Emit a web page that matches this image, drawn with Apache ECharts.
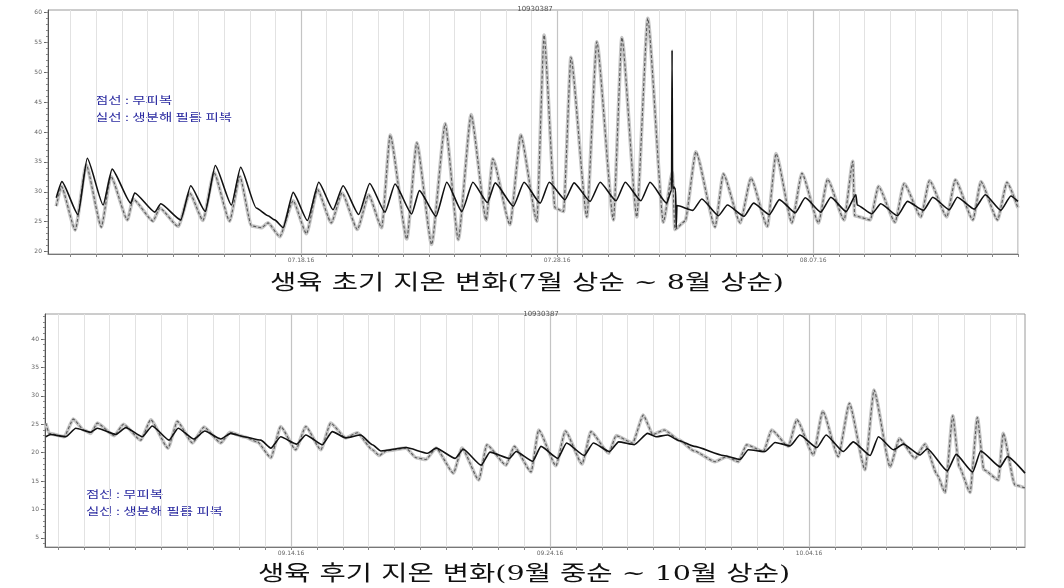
<!DOCTYPE html>
<html><head><meta charset="utf-8">
<script src="https://cdn.jsdelivr.net/npm/echarts@6/dist/echarts.min.js"></script>
<style>html,body{margin:0;padding:0;background:#fff}#c{width:1064px;height:588px}</style>
</head><body><div id="c"></div>
<script>
// x values are days since the start date of each panel (07.08.16 / 09.04.16 00:00)
const chartId = '10930387';
const earlyCaption = '생육 초기 지온 변화(7월 상순 ~ 8월 상순)';
const lateCaption = '생육 후기 지온 변화(9월 중순 ~ 10월 상순)';
const legendDashed = '점선 : 무피복';
const legendSolid = '실선 : 생분해 필름 피복';

const earlyDateTicks = [10, 20, 30];
const earlyDateLabels = ['07.18.16', '07.28.16', '08.07.16'];
const lateDateTicks = [10, 20, 30];
const lateDateLabels = ['09.14.16', '09.24.16', '10.04.16'];
const earlyYLabels = [20, 25, 30, 35, 40, 45, 50, 55, 60];
const lateYLabels = [5, 10, 15, 20, 25, 30, 35, 40];

// early season: bare soil (dashed)
const earlyBare = [[0.44,27.6],[0.64,30.9],[1.18,23.6],[1.61,34.5],[2.20,24.1],[2.57,32.6],[3.22,25.3],[3.44,28.8],[4.22,25.1],[4.48,27.3],[5.20,24.2],[5.65,29.8],[6.17,25.2],[6.60,33.2],[7.21,25.1],[7.61,32.6],[8.06,24.3],[8.45,24.0],[8.71,24.8],[9.17,22.5],[9.69,28.5],[10.21,23.0],[10.64,30.4],[11.18,24.8],[11.60,29.8],[12.20,23.7],[12.64,29.5],[13.15,24.0],[13.48,39.5],[14.13,22.1],[14.52,38.2],[15.10,21.2],[15.63,41.4],[16.14,22.0],[16.64,42.9],[17.23,25.3],[17.49,35.5],[18.16,24.5],[18.58,39.5],[19.21,25.1],[19.49,56.2],[19.92,27.3],[20.25,26.7],[20.54,52.5],[21.16,25.8],[21.55,55.1],[22.20,25.3],[22.53,55.8],[23.11,25.8],[23.54,59.0],[24.15,24.9],[24.50,33.2],[24.60,23.7],[25.00,25.1],[25.42,36.7],[26.17,24.1],[26.49,33.0],[27.15,24.8],[27.57,32.3],[28.21,24.2],[28.55,36.4],[29.17,24.8],[29.56,33.1],[30.21,24.8],[30.56,32.1],[31.21,25.3],[31.55,35.1],[31.62,26.0],[32.23,25.3],[32.55,30.9],[33.20,24.9],[33.55,31.4],[34.21,25.8],[34.54,31.9],[35.22,25.8],[35.55,32.0],[36.24,25.3],[36.55,31.7],[37.20,25.3],[37.57,31.6],[38.00,27.3]];
// early season: biodegradable film mulch (solid)
const earlyFilm = [[0.44,29.0],[0.66,31.7],[1.29,26.2],[1.65,35.6],[2.27,27.8],[2.62,33.8],[3.35,28.1],[3.50,29.8],[4.29,26.6],[4.52,28.0],[5.30,25.3],[5.69,31.0],[6.26,26.7],[6.65,34.4],[7.28,27.8],[7.64,34.1],[8.25,27.3],[8.71,26.0],[8.97,25.3],[9.30,24.0],[9.69,29.9],[10.25,25.2],[10.69,31.6],[11.25,27.0],[11.64,31.0],[12.25,26.2],[12.68,31.4],[13.28,26.6],[13.67,31.3],[14.32,26.3],[14.62,30.2],[15.27,25.9],[15.69,31.6],[16.28,26.7],[16.71,31.6],[17.28,28.2],[17.58,31.5],[18.29,27.6],[18.71,31.6],[19.34,28.1],[19.69,31.6],[20.31,28.7],[20.66,31.5],[21.29,28.4],[21.68,31.6],[22.30,28.5],[22.66,31.6],[23.27,28.5],[23.63,31.6],[24.28,28.1],[24.47,30.3],[24.49,53.7],[24.51,30.5],[24.57,30.8],[24.63,30.3],[24.65,24.0],[24.68,27.7],[25.30,26.9],[25.65,28.8],[26.30,26.0],[26.65,27.8],[27.30,25.9],[27.67,28.1],[28.29,26.2],[28.68,28.7],[29.30,26.5],[29.69,29.0],[30.30,26.6],[30.69,29.1],[31.29,26.7],[31.67,29.5],[31.72,27.8],[32.29,26.3],[32.64,28.0],[33.29,26.0],[33.68,28.4],[34.31,26.9],[34.67,29.1],[35.32,27.0],[35.63,29.1],[36.29,27.1],[36.72,29.5],[37.33,26.9],[37.72,29.3],[38.00,28.4]];
// late season: bare soil (dashed)
const lateBare = [[0.53,25.2],[0.66,23.4],[1.24,22.8],[1.59,25.9],[2.00,24.0],[2.27,23.4],[2.52,25.2],[3.17,23.0],[3.53,25.0],[4.20,22.2],[4.58,25.8],[5.25,20.8],[5.61,25.5],[6.19,21.7],[6.64,24.5],[7.29,21.7],[7.64,23.6],[8.18,22.8],[8.70,21.9],[9.22,19.1],[9.60,24.6],[10.18,20.5],[10.57,24.6],[11.15,20.5],[11.53,25.2],[12.11,22.6],[12.56,23.5],[13.14,20.5],[13.41,19.5],[13.67,20.3],[14.44,20.8],[14.83,19.1],[15.21,18.8],[15.60,20.8],[16.27,16.4],[16.60,20.8],[17.25,15.2],[17.56,21.4],[18.30,17.8],[18.62,21.1],[19.27,16.6],[19.56,24.0],[20.23,17.7],[20.59,23.8],[21.24,18.0],[21.58,23.7],[22.27,19.9],[22.55,23.0],[23.19,21.7],[23.60,26.6],[23.97,23.2],[24.41,24.0],[24.99,22.2],[25.57,20.3],[26.37,18.4],[26.82,19.3],[27.27,18.4],[27.59,21.4],[28.24,20.2],[28.56,24.0],[29.20,21.1],[29.53,25.8],[30.17,19.6],[30.53,27.3],[31.13,19.3],[31.56,28.7],[32.16,17.0],[32.51,31.0],[33.13,17.5],[33.49,22.5],[34.09,19.0],[34.48,21.5],[34.95,16.1],[35.25,13.0],[35.55,26.5],[35.80,17.5],[36.22,13.0],[36.50,26.2],[36.75,17.0],[37.31,15.2],[37.50,23.4],[37.95,14.3],[38.34,13.8]];
// late season: biodegradable film mulch (solid)
const lateFilm = [[0.53,22.8],[0.72,23.2],[1.30,22.8],[1.69,24.3],[2.27,23.6],[2.52,24.3],[3.23,23.2],[3.62,24.4],[4.26,22.8],[4.64,24.7],[5.29,22.2],[5.64,24.3],[6.25,22.4],[6.67,23.8],[7.29,22.4],[7.67,23.4],[8.19,22.8],[8.83,22.2],[9.22,20.8],[9.60,22.8],[10.22,21.5],[10.57,23.1],[11.21,21.4],[11.59,23.7],[12.11,22.6],[12.69,23.1],[13.14,21.4],[13.47,20.3],[14.44,20.9],[15.28,19.9],[15.60,20.8],[16.34,19.0],[16.65,20.6],[17.34,17.8],[17.68,20.1],[18.43,19.0],[18.69,20.2],[19.33,18.5],[19.65,21.1],[20.30,19.0],[20.64,21.7],[21.32,19.5],[21.67,21.7],[22.29,20.2],[22.65,21.9],[23.25,21.4],[23.77,23.4],[24.09,22.8],[24.54,23.1],[24.99,22.1],[25.57,21.1],[26.70,19.5],[27.34,18.8],[27.66,20.5],[28.30,20.2],[28.69,21.8],[29.27,21.2],[29.65,23.1],[30.30,20.9],[30.66,23.1],[31.32,20.2],[31.71,21.9],[32.36,19.5],[32.68,22.8],[33.26,20.5],[33.64,21.5],[34.29,19.6],[34.57,20.7],[35.34,16.8],[35.68,19.7],[36.32,16.6],[36.63,20.3],[37.38,17.5],[37.66,19.3],[38.34,16.4]];

const dayTicks = [];
for (let d = 1; d <= 38; d++) dayTicks.push(d);
const earlyMinor = [], lateMinor = [];
for (let v = 20; v <= 60; v++) earlyMinor.push(v);
for (let v = 4; v <= 44; v++) lateMinor.push(v);

const panels = [
  {grid:{left:48, top:10, width:970, height:244}, xmin:0.117, xmax:38.0, ymin:19.6, ymax:60.4,
   ticks:earlyDateTicks, labels:earlyDateLabels, yl:earlyYLabels, minor:earlyMinor, bare:earlyBare, film:earlyFilm},
  {grid:{left:45, top:314, width:980, height:233}, xmin:0.50, xmax:38.34, ymin:3.4, ymax:44.4,
   ticks:lateDateTicks, labels:lateDateLabels, yl:lateYLabels, minor:lateMinor, bare:lateBare, film:lateFilm}
];

const grid = [], xAxis = [], yAxis = [], series = [];
panels.forEach((p, i) => {
  grid.push(Object.assign({show:true, borderColor:'#9a9a9a', borderWidth:1, backgroundColor:'#fff'}, p.grid));
  xAxis.push({type:'value', gridIndex:i, min:p.xmin, max:p.xmax, position:'bottom',
    axisLine:{show:true, lineStyle:{color:'#777', width:1}},
    axisTick:{show:true, customValues:dayTicks, length:3, lineStyle:{color:'#888'}},
    axisLabel:{show:false, customValues:dayTicks},
    splitLine:{show:true, lineStyle:{color:'#e2e2e2', width:1}}});
  xAxis.push({type:'value', gridIndex:i, min:p.xmin, max:p.xmax, position:'bottom',
    axisLine:{show:false},
    axisTick:{show:false, customValues:p.ticks},
    axisLabel:{show:true, customValues:p.ticks, margin:3, fontSize:6, color:'#666', fontFamily:'DejaVu Sans',
      formatter:(v)=>p.labels[p.ticks.indexOf(Math.round(v))] || ''},
    splitLine:{show:true, lineStyle:{color:'#c4c4c4', width:1.2}}});
  yAxis.push({type:'value', gridIndex:i, min:p.ymin, max:p.ymax, position:'left',
    axisLine:{show:true, lineStyle:{color:'#555', width:1}},
    axisTick:{show:true, customValues:p.yl, length:4, lineStyle:{color:'#666'}},
    axisLabel:{show:true, customValues:p.yl, margin:6, fontSize:6, color:'#666', fontFamily:'DejaVu Sans'},
    splitLine:{show:false}});
  yAxis.push({type:'value', gridIndex:i, min:p.ymin, max:p.ymax, position:'left', offset:0,
    axisLine:{show:false},
    axisTick:{show:true, customValues:p.minor, length:2, lineStyle:{color:'#888'}},
    axisLabel:{show:false, customValues:p.minor},
    splitLine:{show:false}});
  const xi = i*2, yi = i*2;
  series.push({type:'line', xAxisIndex:xi, yAxisIndex:yi, data:p.bare, showSymbol:false, smooth:0.18, smoothMonotone:'x',
    lineStyle:{color:'#c6c6c6', width:3.6}, z:2, silent:true, animation:false});
  series.push({type:'line', xAxisIndex:xi, yAxisIndex:yi, data:p.bare, showSymbol:false, smooth:0.18, smoothMonotone:'x',
    lineStyle:{color:'#5a5a5a', width:1.1, type:[3,2]}, z:3, silent:true, animation:false});
  series.push({type:'line', xAxisIndex:xi, yAxisIndex:yi, data:p.film, showSymbol:false, smooth:0.18, smoothMonotone:'x',
    lineStyle:{color:'#111', width:1.6}, z:4, silent:true, animation:false});
});

const capFont = '21px "DejaVu Serif", "Noto Sans CJK KR", serif';
const legFont = '10px "Noto Sans CJK KR"';
const option = {
  backgroundColor:'#fff', animation:false,
  title:[
    {text:chartId, left:530, top:1, textAlign:'center', textStyle:{fontSize:7, color:'#555', fontWeight:'normal', fontFamily:'DejaVu Sans'}},
    {text:chartId, left:536, top:306, textAlign:'center', textStyle:{fontSize:7, color:'#555', fontWeight:'normal', fontFamily:'DejaVu Sans'}}
  ],
  graphic:[
    {type:'text', x:527, y:284, scaleX:1.36, style:{text:earlyCaption, fill:'#111', font:capFont, textAlign:'center', textVerticalAlign:'middle'}},
    {type:'text', x:524, y:575, scaleX:1.36, style:{text:lateCaption, fill:'#111', font:capFont, textAlign:'center', textVerticalAlign:'middle'}},
    {type:'text', x:95, y:100, scaleX:1.45, style:{text:legendDashed, fill:'#2a2aa0', font:legFont, textVerticalAlign:'middle'}},
    {type:'text', x:95, y:117, scaleX:1.45, style:{text:legendSolid, fill:'#2a2aa0', font:legFont, textVerticalAlign:'middle'}},
    {type:'text', x:86, y:494, scaleX:1.45, style:{text:legendDashed, fill:'#2a2aa0', font:legFont, textVerticalAlign:'middle'}},
    {type:'text', x:86, y:511, scaleX:1.45, style:{text:legendSolid, fill:'#2a2aa0', font:legFont, textVerticalAlign:'middle'}}
  ],
  grid, xAxis, yAxis, series
};
const chart = echarts.init(document.getElementById('c'), null, {renderer:'canvas'});
chart.setOption(option);
</script></body></html>
